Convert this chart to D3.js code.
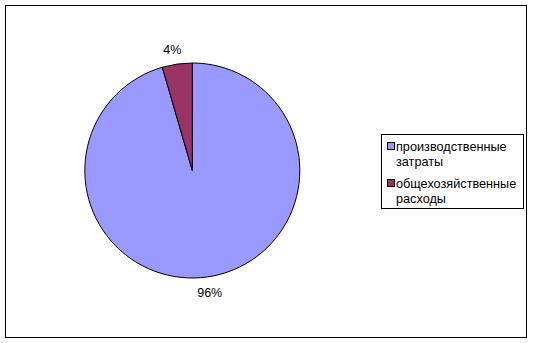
<!DOCTYPE html>
<html><head><meta charset="utf-8">
<script src="https://cdn.jsdelivr.net/npm/d3@7"></script>
<style>body{margin:0;background:#fff}svg{display:block}</style>
</head><body><svg id="c" width="533" height="343"></svg>
<script>
const categories = ["производственные затраты", "общехозяйственные расходы"];
const values = [95.5, 4.5];
const labels = ["96%", "4%"];
const colors = ["#9999FF", "#993366"];

const svg = d3.select("#c");
svg.append("rect").attr("x",5.5).attr("y",5.5).attr("width",521).attr("height",332)
  .attr("fill","#fff").attr("stroke","#000");

const cx = 192.3, cy = 170.5, r = 107.5;
const pie = d3.pie().sort(null).startAngle(0).endAngle(2*Math.PI)
  .value(d => d.v);
const data = categories.map((c,i)=>({c, v: values[i], col: colors[i], lab: labels[i]}));
const arcs = pie(data);
const arc = d3.arc().innerRadius(0).outerRadius(r);
const g = svg.append("g").attr("transform",`translate(${cx},${cy})`);
g.selectAll("path").data(arcs).join("path")
  .attr("d", arc).attr("fill", d=>d.data.col).attr("stroke","#000").attr("stroke-width",1);

const labArc = d3.arc().innerRadius(r+16).outerRadius(r+16);
g.selectAll("text").data(arcs).join("text")
  .attr("transform", (d,i) => {
    const c = labArc.centroid(d);
    return `translate(${c[0] + (i===1 ? -2.5 : 0)},${c[1] + (i===1 ? 1 : 0)})`;
  })
  .attr("text-anchor","middle").attr("dy","0.35em")
  .attr("font-family","Liberation Sans, Arial, sans-serif").attr("font-size",12.5)
  .text(d=>d.data.lab);

// legend
const lg = svg.append("g");
lg.append("rect").attr("x",381.5).attr("y",134.5).attr("width",142).attr("height",74)
  .attr("fill","#fff").attr("stroke","#000");
const lines = [["производственные","затраты"],["общехозяйственные","расходы"]];
data.forEach((d,i)=>{
  const y0 = 146 + i*37;
  lg.append("rect").attr("x",387.5).attr("y",y0-3.5).attr("width",7).attr("height",7)
    .attr("fill",d.col).attr("stroke","#000");
  lines[i].forEach((t,j)=>{
    lg.append("text").attr("x",396).attr("y",y0+4.5+j*15)
      .attr("font-family","Liberation Sans, Arial, sans-serif").attr("font-size",12.7)
      .text(t);
  });
});
</script></body></html>
